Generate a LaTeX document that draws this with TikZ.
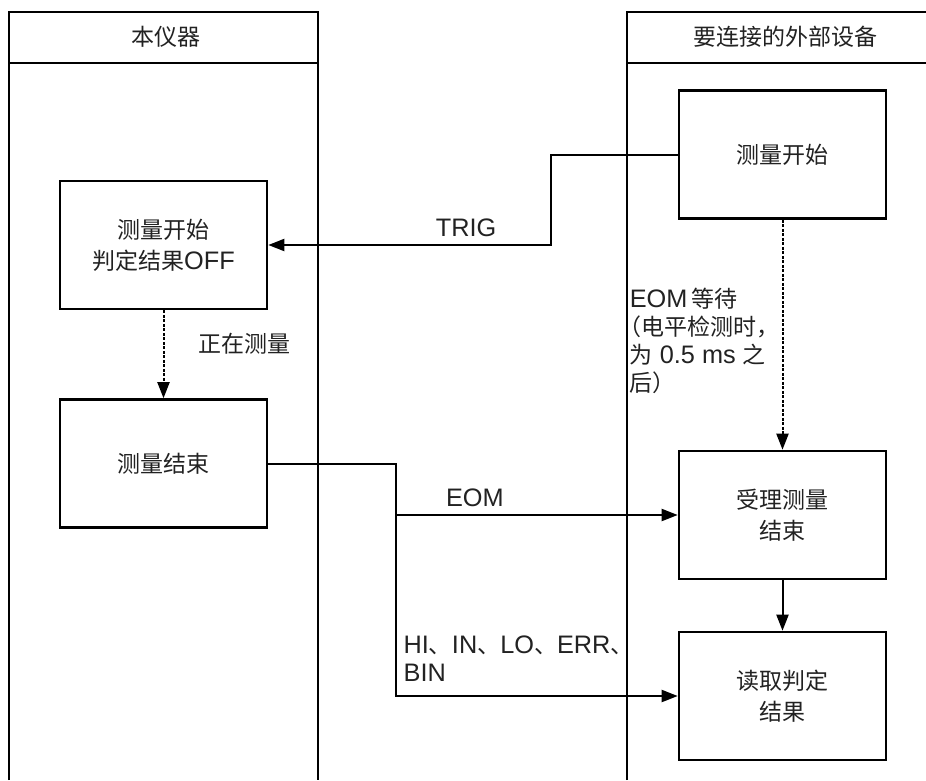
\documentclass[tikz,border=0pt]{standalone}
\usepackage{fontspec}
\setmainfont{Liberation Sans}[Scale=1.1]
\newfontfamily\cjk{Noto Sans CJK SC}
\newfontfamily\cjkhalf{Noto Sans CJK SC}[RawFeature=+halt]
\usepackage{tikz}
\usetikzlibrary{arrows.meta,positioning}
\definecolor{inkgray}{HTML}{222222}
\newcommand{\zh}[1]{{\cjk #1}}
\tikzset{
  lane/.style={line width=2pt},
  procbox/.style={draw,line width=2.6pt,minimum width=207pt,minimum height=128pt,
    align=center,inner sep=0pt,font=\fontsize{23}{31}\selectfont},
  sig/.style={line width=2pt},
  sigarrow/.style={sig,-{Triangle[length=16pt,width=12pt]}},
  waitarrow/.style={sigarrow,dash pattern=on 3pt off 1.5pt},
}

\begin{document}
\begin{tikzpicture}[x=1pt,y=-1pt,font=\fontsize{23}{28}\selectfont,text=inkgray]
  \useasboundingbox (0,0) rectangle (926,780);

  % Lanes
  \draw[lane] (9,780) -- (9,12) -- (318,12) -- (318,780);
  \draw[lane] (9,63) -- (318,63);
  \draw[lane] (627,780) -- (627,12) -- (926,12);
  \draw[lane] (627,63) -- (926,63);
  \node (hdrinst) at (166,37) {\zh{本仪器}};
  \node (hdrext) at (785,37) {\zh{要连接的外部设备}};

  % Steps
  \node[procbox] (meas) at (163.5,245) {\zh{测量开始}\\\zh{判定结果}OFF};
  \node[procbox] (measend) at (163.5,463.5) {\zh{测量结束}};
  \node[procbox] (startext) at (782.5,154.5) {\zh{测量开始}};
  \node[procbox] (accept) at (782.5,515) {\zh{受理测量}\\\zh{结束}};
  \node[procbox] (readres) at (782.5,696) {\zh{读取判定}\\\zh{结果}};

  % Signals
  \coordinate (trigbend) at (551,0);
  \coordinate (eomsplit) at (396,0);
  \draw[sigarrow] (startext.west) -| (trigbend |- meas.east) -- (meas.east)
    node[pos=0.3,above=4pt] (trig) {TRIG};
  \draw[sig] (measend.east) -| (eomsplit |- accept.west);
  \draw[sigarrow] (eomsplit |- accept.west) -- (accept.west)
    node[pos=0.28,above=4pt] (eom) {EOM};
  \draw[sigarrow] (eomsplit |- accept.west) |- (readres.west)
    node[pos=0.5,anchor=south west,align=left,xshift=3pt,yshift=10pt] (judge)
    {HI\zh{、}IN\zh{、}LO\zh{、}ERR\zh{、}\\BIN};

  % Flow inside each side
  \draw[waitarrow] (meas) -- (measend)
    node[midway,right=30pt,yshift=11pt] (measuring) {\zh{正在测量}};
  \draw[waitarrow] (startext) -- (accept)
    node[midway,left=10pt,yshift=-6pt,align=left] (eomwait)
    {EOM\,{\cjkhalf 等待}\\{\cjkhalf （电平检测时，}\\{\cjkhalf 为} 0.5 ms {\cjkhalf 之}\\{\cjkhalf 后）}};
  \draw[sigarrow] (accept) -- (readres);
\end{tikzpicture}
\end{document}
